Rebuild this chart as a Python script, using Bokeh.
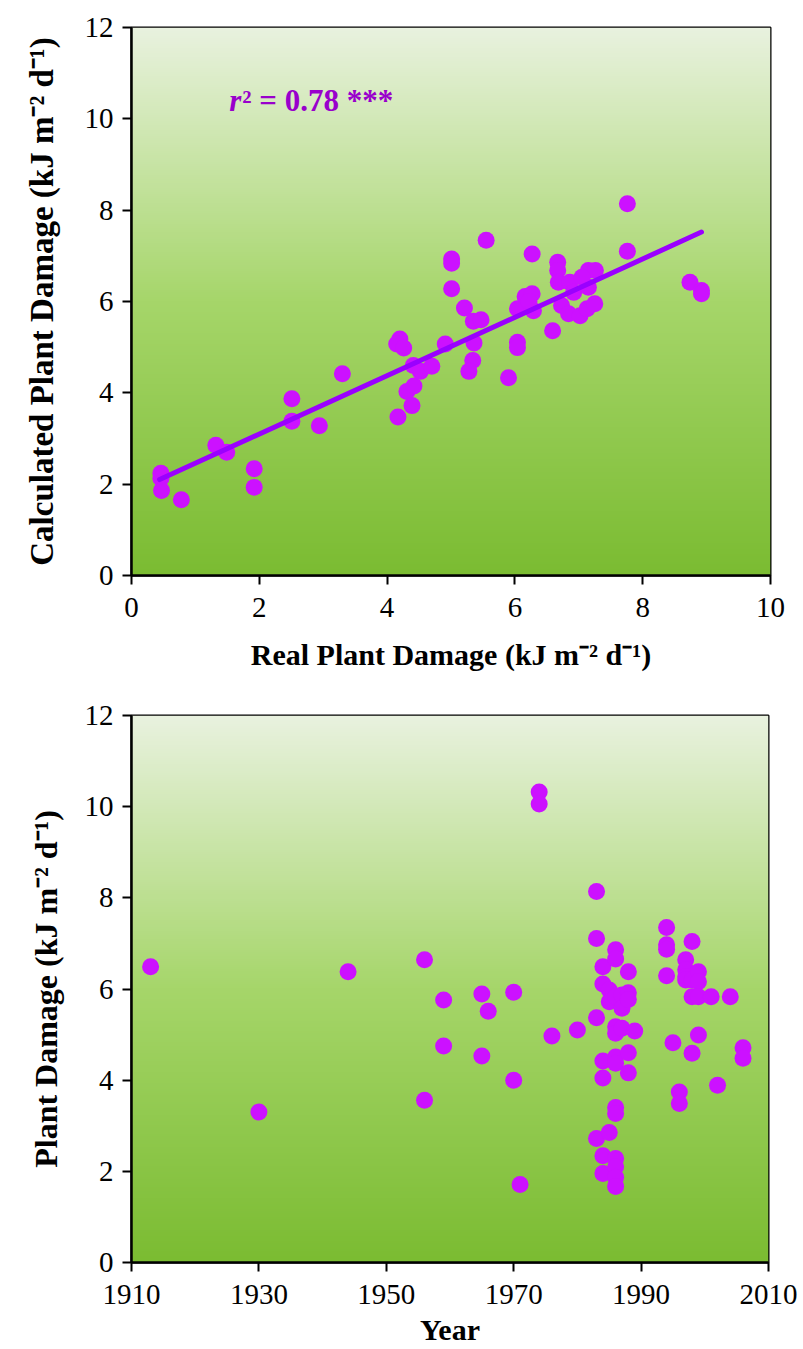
import numpy as np
from bokeh.plotting import figure
from bokeh.layouts import column
from bokeh.models import Range1d, FixedTicker, Label
from bokeh.embed import file_html
from bokeh.resources import INLINE

# ---- data: top panel (real vs calculated plant damage) ----
real_damage = [0.46, 0.46, 0.47, 0.78, 1.32, 1.49, 1.92, 1.92, 2.51, 2.51, 2.94, 3.30,
               4.17, 4.20, 4.15, 4.26, 4.31, 4.42, 4.39, 4.41, 4.52, 4.70, 4.91, 5.01,
               5.01, 5.01, 5.55, 5.21, 5.35, 5.47, 5.36, 5.34, 5.28, 6.27, 5.90, 6.04,
               6.04, 6.04, 6.16, 6.27, 6.29, 6.22, 6.59, 6.67, 6.67, 6.68, 6.73, 6.84,
               6.86, 6.92, 7.02, 7.13, 7.15, 7.26, 7.15, 7.25, 7.05, 7.76, 7.76, 8.74,
               8.92, 8.92]
calc_damage = [2.24, 2.13, 1.86, 1.66, 2.85, 2.70, 2.34, 1.93, 3.87, 3.38, 3.28, 4.42,
               3.47, 5.18, 5.07, 4.98, 4.03, 4.15, 3.72, 4.60, 4.47, 4.58, 5.07, 6.93,
               6.84, 6.28, 7.34, 5.86, 5.57, 5.60, 5.09, 4.71, 4.47, 7.04, 4.33, 5.11,
               4.99, 5.84, 6.11, 6.17, 5.80, 6.00, 5.36, 6.86, 6.68, 6.42, 5.91, 5.73,
               6.42, 6.20, 5.69, 5.84, 6.68, 6.68, 6.31, 5.95, 6.53, 8.14, 7.10, 6.42,
               6.24, 6.17]
fit_x = [0.44, 8.92]
fit_slope = 0.639
fit_intercept = 1.82
r2_text = "0.78 ***"

# ---- data: bottom panel (year vs plant damage) ----
years = [1913, 1930, 1944, 1956, 1956, 1959, 1959, 1965, 1966, 1965, 1970, 1970, 1971,
         1974, 1974, 1976, 1980, 1983, 1983, 1983, 1983, 1984, 1984, 1984, 1984, 1984,
         1984, 1985, 1985, 1985, 1986, 1986, 1986, 1986, 1986, 1986, 1986, 1986, 1986,
         1986, 1986, 1986, 1986, 1987, 1987, 1987, 1988, 1988, 1988, 1988, 1988, 1989,
         1994, 1994, 1994, 1994, 1995, 1996, 1996, 1997, 1997, 1997, 1997, 1998, 1998,
         1998, 1998, 1999, 1999, 1999, 1999, 2001, 2002, 2004, 2006, 2006]
year_damage = [6.49, 3.30, 6.38, 6.64, 3.56, 5.76, 4.75, 5.89, 5.51, 4.53, 5.93, 4.00, 1.71,
               10.32, 10.06, 4.97, 5.10, 8.14, 7.11, 5.37, 2.72, 6.49, 6.11, 4.42, 4.05, 2.34,
               1.95, 2.85, 5.98, 5.72, 6.86, 6.66, 5.83, 5.17, 5.03, 4.51, 4.37, 3.40, 3.27,
               2.28, 2.10, 1.87, 1.67, 5.87, 5.58, 5.14, 6.38, 5.92, 5.77, 4.60, 4.16, 5.08,
               7.35, 6.97, 6.87, 6.29, 4.82, 3.74, 3.49, 6.64, 6.42, 6.27, 6.20, 7.04, 6.20,
               5.83, 4.59, 6.38, 6.16, 5.83, 4.99, 5.83, 3.89, 5.83, 4.71, 4.48]

top_x_ticks = [0, 2, 4, 6, 8, 10]
y_ticks = [0, 2, 4, 6, 8, 10, 12]
year_ticks = [1910, 1930, 1950, 1970, 1990, 2010]

FONT = "Liberation Serif"
MARKER = "#cc11ff"
LINE = "#9a00ff"


def gradient_image():
    stops_pos = [0.0, 0.5, 1.0]
    stops_col = [(123, 188, 50), (166, 214, 106), (233, 242, 223)]
    n = 256
    t = np.linspace(0, 1, n)
    img = np.zeros((n, 1), dtype=np.uint32)
    view = img.view(dtype=np.uint8).reshape((n, 1, 4))
    for c in range(3):
        view[:, 0, c] = np.interp(t, stops_pos, [s[c] for s in stops_col]).astype(np.uint8)
    view[:, 0, 3] = 255
    return img


def style(p, xlabel, ylabel, ylabel_standoff, ylabel_size):
    p.grid.visible = False
    p.outline_line_color = "black"
    p.outline_line_width = 2
    p.background_fill_color = "white"
    p.border_fill_color = "white"
    for ax in (p.xaxis[0], p.yaxis[0]):
        ax.axis_line_width = 2.5
        ax.axis_line_color = "black"
        ax.major_tick_line_width = 2
        ax.major_tick_line_color = "black"
        ax.major_tick_out = 9
        ax.major_tick_in = 0
        ax.minor_tick_line_color = None
        ax.major_label_text_font = FONT
        ax.major_label_text_font_size = "29px"
        ax.major_label_text_color = "black"
        ax.axis_label_text_font = FONT
        ax.axis_label_text_font_style = "bold"
        ax.axis_label_text_color = "black"
    p.xaxis[0].axis_label = xlabel
    p.xaxis[0].axis_label_text_font_size = "30px"
    p.yaxis[0].axis_label = ylabel
    p.yaxis[0].axis_label_text_font_size = ylabel_size
    p.xaxis[0].major_label_standoff = 13
    p.yaxis[0].major_label_standoff = 9
    p.yaxis[0].axis_label_standoff = ylabel_standoff


# ---- top figure ----
p1 = figure(frame_width=639, frame_height=548, x_range=Range1d(0, 10), y_range=Range1d(0, 12),
            output_backend="svg", toolbar_location=None,
            min_border_left=128, min_border_right=36, min_border_top=27, min_border_bottom=105)
p1.image_rgba(image=[gradient_image()], x=0, y=0, dw=10, dh=12)
p1.scatter(real_damage, calc_damage, size=17, fill_color=MARKER, line_color=None)
fit_y = [fit_intercept + fit_slope * v for v in fit_x]
p1.line(fit_x, fit_y, line_color=LINE, line_width=5, line_cap="round")
style(p1, "Real Plant Damage (kJ m\u207b\u00b2 d\u207b\u00b9)",
      "Calculated Plant Damage (kJ m\u207b\u00b2 d\u207b\u00b9)", 22, "33px")
p1.xaxis[0].ticker = FixedTicker(ticks=top_x_ticks)
p1.yaxis[0].ticker = FixedTicker(ticks=y_ticks)
p1.xaxis[0].axis_label_standoff = 18

p1.add_layout(Label(x=1.53, y=10.4, text="r", text_font=FONT, text_font_style="bold italic",
                    text_font_size="31px", text_color="#9900cc", text_baseline="alphabetic"))
p1.add_layout(Label(x=1.53, y=10.4, x_offset=13, text="\u00b2 = " + r2_text, text_font=FONT,
                    text_font_style="bold", text_font_size="31px", text_color="#9900cc",
                    text_baseline="alphabetic"))

# ---- bottom figure ----
p2 = figure(frame_width=637, frame_height=547, x_range=Range1d(1910, 2010), y_range=Range1d(0, 12),
            output_backend="svg", toolbar_location=None,
            min_border_left=131, min_border_right=35, min_border_top=35, min_border_bottom=87)
p2.image_rgba(image=[gradient_image()], x=1910, y=0, dw=100, dh=12)
p2.scatter(years, year_damage, size=17, fill_color=MARKER, line_color=None)
style(p2, "Year", "Plant Damage (kJ m\u207b\u00b2 d\u207b\u00b9)", 18, "32px")
p2.xaxis[0].ticker = FixedTicker(ticks=year_ticks)
p2.yaxis[0].ticker = FixedTicker(ticks=y_ticks)
p2.xaxis[0].axis_label_standoff = 6

layout = column(p1, p2, spacing=0)
open("out.html", "w").write(file_html(layout, INLINE))
